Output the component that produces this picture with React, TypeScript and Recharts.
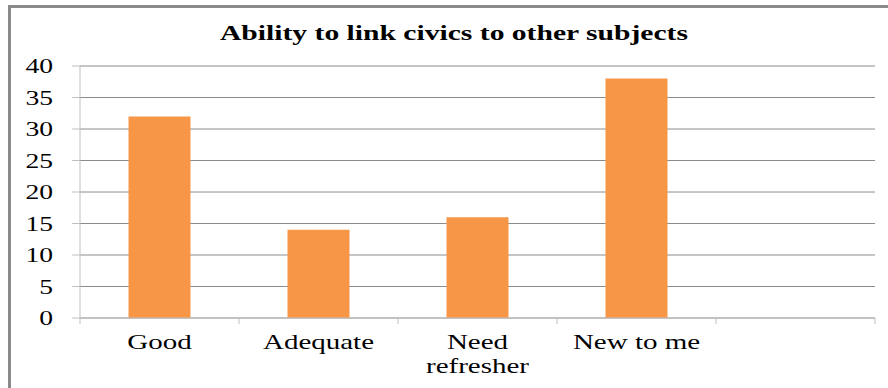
import React from 'react'
import { BarChart, Bar, XAxis, YAxis, CartesianGrid } from 'recharts'

const categories = ['Good', 'Adequate', 'Need\nrefresher', 'New to me', '']
const counts = [32, 14, 16, 38, null]
const yTicks = [0, 5, 10, 15, 20, 25, 30, 35, 40]
const title = 'Ability to link civics to other subjects'

const chartData = categories.map((name, i) => ({ name, value: counts[i] }))

const WIDTH = 888
const HEIGHT = 388
const MARGIN = { top: 66, right: 13, left: 0, bottom: 0 }
const Y_WIDTH = 80
const BAND = (WIDTH - MARGIN.left - MARGIN.right - Y_WIDTH) / categories.length
const FONT = 'Liberation Serif, DejaVu Serif, serif'
// the source picture is stretched sideways
const STRETCH = 1.38

function CategoryTick(props: any) {
  const { x, y, payload, index } = props
  const lines = String(payload.value).split('\n')
  const left = x - BAND / 2
  const right = x + BAND / 2
  return (
    <g>
      <line x1={left} y1={y} x2={left} y2={y + 6} stroke="#bfbfbf" />
      {index === categories.length - 1 && (
        <line x1={right} y1={y} x2={right} y2={y + 6} stroke="#bfbfbf" />
      )}
      <g transform={`translate(${x},${y}) scale(${STRETCH},1)`}>
        <text x={0} y={0} textAnchor="middle" fill="#000" fontFamily={FONT} fontSize={21}>
          {lines.map((l, i) => (
            <tspan key={i} x={0} dy={i === 0 ? 31 : 24}>{l}</tspan>
          ))}
        </text>
      </g>
    </g>
  )
}

function ValueTick(props: any) {
  const { x, y, payload } = props
  return (
    <g transform={`translate(${x},${y}) scale(${STRETCH},1)`}>
      <text x={0} y={0} dy={7} textAnchor="end" fill="#000" fontFamily={FONT} fontSize={20}>
        {payload.value}
      </text>
    </g>
  )
}

export default function App() {
  return (
    <div style={{ position: 'absolute', left: 0, top: 0, width: WIDTH, height: HEIGHT, background: '#fff' }}>
      <div
        style={{
          position: 'absolute',
          left: 8,
          top: 5,
          right: 0,
          bottom: 0,
          borderLeft: '3px solid #8a8a8a',
          borderTop: '3px solid #8a8a8a',
        }}
      />
      <svg width={WIDTH} height={60} style={{ position: 'absolute', left: 0, top: 0 }}>
        <text
          x={454}
          y={40}
          textAnchor="middle"
          fontFamily={FONT}
          fontWeight="bold"
          fontSize={22}
          textLength={468}
          lengthAdjust="spacingAndGlyphs"
          fill="#000"
        >
          {title}
        </text>
      </svg>
      <BarChart
        width={WIDTH}
        height={HEIGHT}
        data={chartData}
        margin={MARGIN}
        barCategoryGap="30.5%"
        style={{ position: 'absolute', left: 0, top: 0 }}
      >
        <CartesianGrid vertical={false} stroke="#8c8c8c" />
        <XAxis
          dataKey="name"
          height={70}
          interval={0}
          axisLine={{ stroke: '#bfbfbf' }}
          tickLine={false}
          tickSize={0}
          tickMargin={0}
          tick={<CategoryTick />}
        />
        <YAxis
          width={Y_WIDTH}
          domain={[0, 40]}
          ticks={yTicks}
          interval={0}
          axisLine={{ stroke: '#bfbfbf' }}
          tickLine={{ stroke: '#bfbfbf' }}
          tickSize={8}
          tickMargin={19}
          tick={<ValueTick />}
        />
        <Bar dataKey="value" fill="#F79646" isAnimationActive={false} />
      </BarChart>
    </div>
  )
}
